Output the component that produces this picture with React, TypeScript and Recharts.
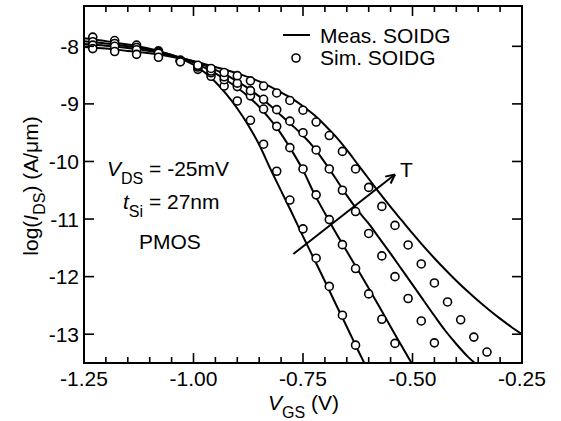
import React from 'react';
import { ComposedChart, Line, Scatter, XAxis, YAxis, ReferenceLine } from 'recharts';

const FONT = '"Liberation Sans", Arial, Helvetica, sans-serif';

// ---- axes ----
const xDomain = [-1.25, -0.25];
const yDomain = [-13.5, -7.3];
const xAllTicks = [-1.25, -1.2, -1.15, -1.1, -1.05, -1.0, -0.95, -0.9, -0.85, -0.8, -0.75, -0.7, -0.65, -0.6, -0.55, -0.5, -0.45, -0.4, -0.35, -0.3, -0.25];
const xMajorTicks = [-1.25, -1.0, -0.75, -0.5, -0.25];
const xMajorLabels = ['-1.25', '-1.00', '-0.75', '-0.50', '-0.25'];
const yTicks = [-13, -12, -11, -10, -9, -8];
const yTickLabels = ['-13', '-12', '-11', '-10', '-9', '-8'];

// ---- measured (solid lines) ----
const measVA = [-1.25, -1.2, -1.15, -1.1, -1.05, -1.0, -0.975, -0.95, -0.925, -0.9, -0.875, -0.85, -0.825, -0.8, -0.775, -0.75, -0.725, -0.7, -0.675, -0.65, -0.625, -0.61];
const measLA = [-7.86, -7.91, -7.97, -8.04, -8.15, -8.32, -8.45, -8.62, -8.83, -9.08, -9.37, -9.71, -10.12, -10.51, -10.9, -11.3, -11.69, -12.08, -12.48, -12.87, -13.27, -13.5];

const measVB = [-1.25, -1.2, -1.15, -1.1, -1.05, -1.0, -0.975, -0.95, -0.925, -0.9, -0.875, -0.85, -0.825, -0.8, -0.775, -0.75, -0.725, -0.7, -0.675, -0.65, -0.625, -0.6, -0.575, -0.55, -0.525, -0.5];
const measLB = [-7.91, -7.95, -8.0, -8.06, -8.15, -8.28, -8.37, -8.47, -8.59, -8.72, -8.87, -9.05, -9.27, -9.52, -9.82, -10.15, -10.55, -10.9, -11.24, -11.56, -11.88, -12.2, -12.53, -12.87, -13.2, -13.53];

const measVC = [-1.25, -1.2, -1.15, -1.1, -1.05, -1.0, -0.975, -0.95, -0.925, -0.9, -0.875, -0.85, -0.825, -0.8, -0.775, -0.75, -0.725, -0.7, -0.675, -0.65, -0.625, -0.6, -0.575, -0.55, -0.525, -0.5, -0.475, -0.45, -0.425, -0.4, -0.375, -0.355];
const measLC = [-7.96, -7.99, -8.03, -8.08, -8.16, -8.26, -8.33, -8.41, -8.5, -8.61, -8.73, -8.87, -9.03, -9.2, -9.37, -9.55, -9.76, -10.02, -10.3, -10.59, -10.85, -11.08, -11.34, -11.6, -11.87, -12.14, -12.41, -12.68, -12.94, -13.17, -13.38, -13.52];

const measVD = [-1.25, -1.2, -1.15, -1.1, -1.05, -1.0, -0.95, -0.9, -0.85, -0.8, -0.775, -0.75, -0.725, -0.7, -0.675, -0.65, -0.625, -0.6, -0.575, -0.55, -0.525, -0.5, -0.475, -0.45, -0.425, -0.4, -0.375, -0.35, -0.325, -0.3, -0.275, -0.25];
const measLD = [-8.01, -8.04, -8.08, -8.12, -8.18, -8.26, -8.36, -8.47, -8.61, -8.8, -8.91, -9.04, -9.19, -9.37, -9.57, -9.8, -10.05, -10.3, -10.55, -10.79, -11.02, -11.25, -11.47, -11.68, -11.88, -12.07, -12.25, -12.42, -12.58, -12.73, -12.87, -13.0];

// ---- simulated (circles) ----
const simV = [-1.23, -1.18, -1.13, -1.08, -1.03, -0.99, -0.96, -0.93, -0.9, -0.87, -0.84, -0.81, -0.78, -0.75, -0.72, -0.69, -0.66, -0.63, -0.6, -0.57, -0.54, -0.51, -0.48, -0.45, -0.42, -0.39, -0.36, -0.33];
const simLA = [-7.84, -7.9, -7.98, -8.08, -8.24, -8.4, -8.52, -8.69, -8.95, -9.285, -9.7, -10.17, -10.67, -11.17, -11.68, -12.17, -12.67, -13.19];
const simLB = [-7.92, -7.95, -8.02, -8.1, -8.25, -8.36, -8.46, -8.58, -8.7, -8.86, -9.09, -9.39, -9.76, -10.13, -10.58, -11.01, -11.445, -11.86, -12.3, -12.74, -13.16];
const simLC = [-7.98, -8.0, -8.06, -8.12, -8.26, -8.34, -8.43, -8.53, -8.64, -8.77, -8.92, -9.1, -9.3, -9.5, -9.8, -10.13, -10.5, -10.87, -11.25, -11.64, -12.0, -12.38, -12.77, -13.15];
const simLD = [-8.04, -8.09, -8.14, -8.19, -8.27, -8.33, -8.385, -8.455, -8.51, -8.6, -8.69, -8.81, -8.94, -9.11, -9.315, -9.55, -9.825, -10.13, -10.45, -10.78, -11.11, -11.45, -11.78, -12.11, -12.44, -12.75, -13.05, -13.31];

// ---- temperature arrow (data coords) ----
const arrowFrom = [-0.772, -11.607];
const arrowTo = [-0.54, -10.226];

const zip = (xs: number[], ys: number[]) => ys.map((y, i) => ({ x: xs[i], y }));

const measured = [zip(measVA, measLA), zip(measVB, measLB), zip(measVC, measLC), zip(measVD, measLD)];
const simulated = [zip(simV, simLA), zip(simV, simLB), zip(simV, simLC), zip(simV, simLD)];

// ---- layout ----
const W = 561;
const H = 421;
const PLOT = { left: 84, right: 522, top: 6, bottom: 363 };
const LEFT_W = 60, RIGHT_W = 10, BOTTOM_H = 30, TOP_H = 6;
const margin = {
  top: PLOT.top - TOP_H,
  left: PLOT.left - LEFT_W,
  right: W - PLOT.right - RIGHT_W,
  bottom: H - PLOT.bottom - BOTTOM_H,
};

const isMajor = (v: number) => xMajorTicks.findIndex((t) => Math.abs(t - v) < 1e-6);

const BottomTick = (props: any) => {
  const { x, y, payload } = props;
  const idx = isMajor(payload.value);
  return (
    <g>
      <line x1={x} x2={x} y1={y} y2={y - (idx >= 0 ? 10 : 6)} stroke="#000" strokeWidth={1.6} />
      {idx >= 0 && (
        <text x={x} y={y + 23} textAnchor="middle" fontSize={21} fontFamily={FONT} fill="#000">
          {xMajorLabels[idx]}
        </text>
      )}
    </g>
  );
};

const TopTick = (props: any) => {
  const { x, y, payload } = props;
  const idx = isMajor(payload.value);
  return <line x1={x} x2={x} y1={y} y2={y + (idx >= 0 ? 10 : 6)} stroke="#000" strokeWidth={1.6} />;
};

const LeftTick = (props: any) => {
  const { x, y, payload } = props;
  const idx = yTicks.findIndex((t) => Math.abs(t - payload.value) < 1e-6);
  return (
    <g>
      <line x1={x + 5} x2={x + 15} y1={y} y2={y} stroke="#000" strokeWidth={1.6} />
      <text x={x} y={y} dy="0.36em" textAnchor="end" fontSize={21} fontFamily={FONT} fill="#000">
        {yTickLabels[idx]}
      </text>
    </g>
  );
};

const RightTick = (props: any) => {
  const { x, y } = props;
  return <line x1={x} x2={x - 10} y1={y} y2={y} stroke="#000" strokeWidth={1.6} />;
};

const Ring = (props: any) => (
  <circle cx={props.cx} cy={props.cy} r={4} fill="#fff" stroke="#000" strokeWidth={1.6} />
);

// arrowhead computed from the arrow direction in screen proportions
const pxPerX = (PLOT.right - PLOT.left) / (xDomain[1] - xDomain[0]);
const pxPerY = (PLOT.bottom - PLOT.top) / (yDomain[1] - yDomain[0]);
const ang = Math.atan2((arrowTo[1] - arrowFrom[1]) * pxPerY, (arrowTo[0] - arrowFrom[0]) * pxPerX);
const headLen = 10;
const headSides = [0.45, -0.45].map((d) => {
  const a = ang + Math.PI + d;
  return [arrowTo[0] + (headLen * Math.cos(a)) / pxPerX, arrowTo[1] + (headLen * Math.sin(a)) / pxPerY];
});

const axisLineStyle = { stroke: '#000', strokeWidth: 2, strokeLinecap: 'square' as const };

export default function App() {
  return (
    <div style={{ position: 'absolute', left: 0, top: 0, width: W, height: H, background: '#fff' }}>
      <ComposedChart width={W} height={H} margin={margin}>
        <XAxis
          xAxisId="b"
          dataKey="x"
          type="number"
          domain={xDomain}
          ticks={xAllTicks}
          interval={0}
          allowDataOverflow
          tickSize={0}
          tickMargin={0}
          height={BOTTOM_H}
          tick={<BottomTick />}
          tickLine={false}
          axisLine={axisLineStyle}
        />
        <XAxis
          xAxisId="t"
          orientation="top"
          dataKey="x"
          type="number"
          domain={xDomain}
          ticks={xAllTicks}
          interval={0}
          allowDataOverflow
          tickSize={0}
          tickMargin={0}
          height={TOP_H}
          tick={<TopTick />}
          tickLine={false}
          axisLine={axisLineStyle}
        />
        <YAxis
          yAxisId="l"
          dataKey="y"
          type="number"
          domain={yDomain}
          ticks={yTicks}
          interval={0}
          allowDataOverflow
          tickSize={0}
          tickMargin={5}
          width={LEFT_W}
          tick={<LeftTick />}
          tickLine={false}
          axisLine={axisLineStyle}
        />
        <YAxis
          yAxisId="r"
          orientation="right"
          dataKey="y"
          type="number"
          domain={yDomain}
          ticks={yTicks}
          interval={0}
          allowDataOverflow
          tickSize={0}
          tickMargin={0}
          width={RIGHT_W}
          tick={<RightTick />}
          tickLine={false}
          axisLine={axisLineStyle}
        />
        {measured.map((d, i) => (
          <Line
            key={'m' + i}
            data={d}
            dataKey="y"
            xAxisId="b"
            yAxisId="l"
            type="monotone"
            stroke="#000"
            strokeWidth={2}
            dot={false}
            activeDot={false}
            isAnimationActive={false}
          />
        ))}
        {simulated.map((d, i) => (
          <Scatter
            key={'s' + i}
            data={d}
            dataKey="y"
            xAxisId="b"
            yAxisId="l"
            shape={(p: any) => <Ring {...p} />}
            isAnimationActive={false}
          />
        ))}
        <ReferenceLine
          xAxisId="b"
          yAxisId="l"
          segment={[{ x: arrowFrom[0], y: arrowFrom[1] }, { x: arrowTo[0], y: arrowTo[1] }]}
          stroke="#000"
          strokeWidth={2}
          ifOverflow="visible"
        />
        {headSides.map((s, i) => (
          <ReferenceLine
            key={'h' + i}
            xAxisId="b"
            yAxisId="l"
            segment={[{ x: arrowTo[0], y: arrowTo[1] }, { x: s[0], y: s[1] }]}
            stroke="#000"
            strokeWidth={2}
            ifOverflow="visible"
          />
        ))}
      </ComposedChart>
      <svg
        width={W}
        height={H}
        style={{ position: 'absolute', left: 0, top: 0, pointerEvents: 'none' }}
        fontFamily={FONT}
        fill="#000"
      >
        {/* legend */}
        <line x1={283} x2={310} y1={35} y2={35} stroke="#000" strokeWidth={2} />
        <text x={320} y={43} fontSize={21}>Meas. SOIDG</text>
        <circle cx={296} cy={58} r={4} fill="#fff" stroke="#000" strokeWidth={1.6} />
        <text x={320} y={65} fontSize={21}>Sim. SOIDG</text>
        {/* annotations */}
        <text x={107} y={176} fontSize={21}>
          <tspan fontStyle="italic">V</tspan>
          <tspan fontSize={16} dy={8}>DS</tspan>
          <tspan dy={-8}>{'\u00A0= -25mV'}</tspan>
        </text>
        <text x={123} y={209} fontSize={21}>
          <tspan fontStyle="italic">t</tspan>
          <tspan fontSize={16} dy={8}>Si</tspan>
          <tspan dy={-8}>{'\u00A0= 27nm'}</tspan>
        </text>
        <text x={139} y={249} fontSize={21}>PMOS</text>
        <text x={400} y={177} fontSize={21}>T</text>
        {/* axis titles */}
        <text transform="translate(38,186) rotate(-90)" textAnchor="middle" fontSize={21}>
          <tspan>log(</tspan>
          <tspan fontStyle="italic">I</tspan>
          <tspan fontSize={16} dy={7}>DS</tspan>
          <tspan dy={-7}>{') (A/\u03BCm)'}</tspan>
        </text>
        <text x={268} y={410} fontSize={21}>
          <tspan fontStyle="italic">V</tspan>
          <tspan fontSize={16} dy={8}>GS</tspan>
          <tspan dy={-8}>{'\u00A0(V)'}</tspan>
        </text>
      </svg>
    </div>
  );
}
